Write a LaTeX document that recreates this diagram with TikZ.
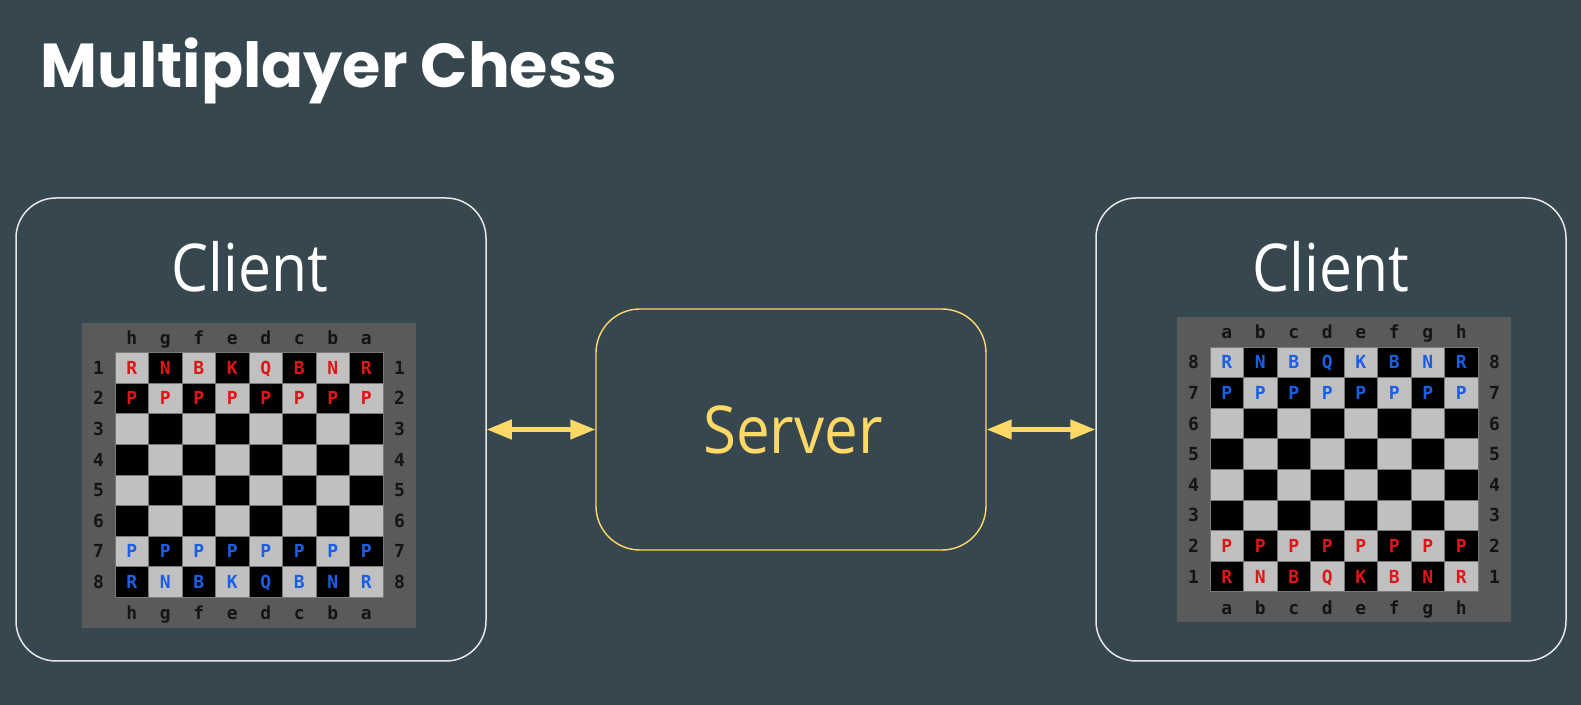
\documentclass[tikz,border=0pt]{standalone}
\usepackage{fontspec}
\usetikzlibrary{arrows.meta}
\newfontfamily\titlefont{Poppins}
\newfontfamily\boxfont{Open Sans}
\newfontfamily\monofont{DejaVu Sans Mono}
\definecolor{bg}{HTML}{37474F}
\definecolor{gold}{HTML}{FFD966}
\definecolor{boardgray}{HTML}{5A5A5A}
\definecolor{lightsq}{HTML}{C0C0C0}
\definecolor{sqline}{HTML}{7A7A7A}
\definecolor{pred}{HTML}{E01515}
\definecolor{pblue}{HTML}{1A5FE6}
\definecolor{lblc}{HTML}{141414}
\definecolor{boxline}{HTML}{E6E6E6}
\tikzset{
 clientbox/.style={draw=boxline, line width=0.75pt, rounded corners=20pt, minimum width=235pt, minimum height=231.5pt, inner sep=0pt},
 serverbox/.style={draw=gold, line width=0.7pt, rounded corners=22pt, minimum width=195pt, minimum height=120.5pt, inner sep=0pt},
 boxtext/.style={anchor=base, inner sep=0pt, font=\boxfont\fontsize{33}{40}\selectfont},
 arr/.style={draw=gold, line width=2.2pt, {Triangle[length=12.5pt,width=9.5pt]}-{Triangle[length=12.5pt,width=9.5pt]}},
 lbl/.style={inner sep=0pt, text=lblc, font=\monofont\bfseries\fontsize{9}{10}\selectfont},
 numlbl/.style={lbl, text height=6.56pt, text depth=0pt},
 pc/.style={inner sep=0pt, text height=6.56pt, text depth=0pt, font=\monofont\bfseries\fontsize{9}{10}\selectfont},
}
\newcommand\chessboardat[7]{%
 \begin{scope}
 \def\bx{#1}\def\by{#2}\def\bw{33.5}\def\bh{30.6}
 \fill[boardgray] ({\bx-33},{\by-29.5}) rectangle ({\bx+8*\bw+32.5},{\by+8*\bh+30.5});
 \foreach \i in {0,...,7}{\foreach \j in {0,...,7}{%
   \pgfmathtruncatemacro\sqpar{mod(\i+\j,2)}%
   \ifnum\sqpar=0 \def\sqcol{lightsq}\else\def\sqcol{black}\fi
   \filldraw[fill=\sqcol, draw=sqline, line width=0.3pt] ({\bx+\i*\bw},{\by+\j*\bh}) rectangle ++(\bw,\bh);
 }}
 \foreach \c [count=\i from 0] in {#3}{%
   \node[lbl,anchor=base] at ({\bx+(\i+0.5)*\bw},{\by-8}) {\c};
   \node[lbl,anchor=base] at ({\bx+(\i+0.5)*\bw},{\by+8*\bh+22.5}) {\c};
 }
 \foreach \r [count=\j from 0] in {#4}{%
   \node[numlbl] at ({\bx-16.5},{\by+(\j+0.5)*\bh}) {\r};
   \node[numlbl] at ({\bx+8*\bw+16.5},{\by+(\j+0.5)*\bh}) {\r};
 }
 \foreach \p [count=\i from 0] in {#7}{%
   \node[pc,text=#5] at ({\bx+(\i+0.5)*\bw},{\by+0.5*\bh}) {\p};
   \node[pc,text=#5] at ({\bx+(\i+0.5)*\bw},{\by+1.5*\bh}) {P};
   \node[pc,text=#6] at ({\bx+(\i+0.5)*\bw},{\by+6.5*\bh}) {P};
   \node[pc,text=#6] at ({\bx+(\i+0.5)*\bw},{\by+7.5*\bh}) {\p};
 }
 \end{scope}}
\begin{document}
\begin{tikzpicture}[x=0.5pt,y=-0.5pt]
\fill[bg] (0,0) rectangle (1581,705);
\useasboundingbox (0,0) rectangle (1581,705);
% title
\node[anchor=base west, inner sep=0pt, text=white] (title) at (40,88)
  {\resizebox{288.5pt}{!}{\titlefont\bfseries\fontsize{36}{40}\selectfont Multiplayer Chess}};
% boxes
\node[clientbox] (lc) at (251,429.5) {};
\node[clientbox] (rc) at (1331,429.5) {};
\node[serverbox] (srv) at (791,429.5) {};
\node[boxtext, text=white] (lct) at (250,292) {\scalebox{0.89}[1]{Client}};
\node[boxtext, text=white] (rct) at (1331,292) {\scalebox{0.89}[1]{Client}};
\node[boxtext, text=gold] (srvt) at (793,454) {\scalebox{0.91}[1]{Server}};
% arrows
\draw[arr] (lc.east) -- (srv.west);
\draw[arr] (srv.east) -- (rc.west);
% boards
\chessboardat{115}{352.5}{h,g,f,e,d,c,b,a}{1,2,3,4,5,6,7,8}{pred}{pblue}{R,N,B,K,Q,B,N,R}
\chessboardat{1210}{347}{a,b,c,d,e,f,g,h}{8,7,6,5,4,3,2,1}{pblue}{pred}{R,N,B,Q,K,B,N,R}
\end{tikzpicture}
\end{document}
